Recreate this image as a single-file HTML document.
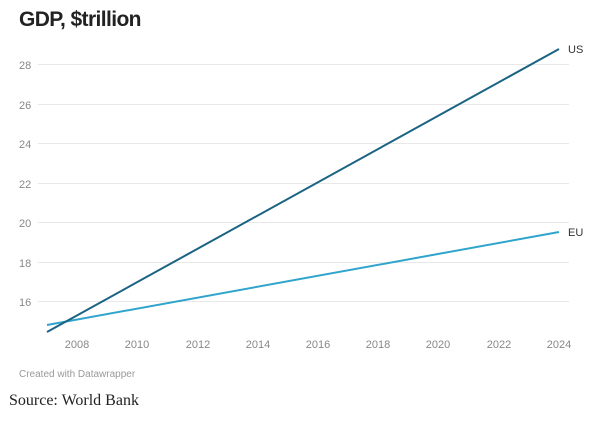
<!DOCTYPE html>
<html><head><style>
body{margin:0;width:614px;height:426px;background:#fff;position:relative;overflow:hidden;font-family:"Liberation Sans",sans-serif}
.t{position:absolute;white-space:nowrap}
</style></head><body>
<div class="t" style="left:19px;top:8px;font-size:21px;font-weight:bold;color:#222;letter-spacing:-0.6px">GDP, $trillion</div>
<svg width="614" height="426" style="position:absolute;left:0;top:0">
<g stroke="#e8e8e8" stroke-width="1">
<line x1="38" x2="569" y1="64.5" y2="64.5"/>
<line x1="38" x2="569" y1="104.5" y2="104.5"/>
<line x1="38" x2="569" y1="143.5" y2="143.5"/>
<line x1="38" x2="569" y1="183.5" y2="183.5"/>
<line x1="38" x2="569" y1="222.5" y2="222.5"/>
<line x1="38" x2="569" y1="262.5" y2="262.5"/>
<line x1="38" x2="569" y1="301.5" y2="301.5"/>
</g>
<g font-family="Liberation Sans" font-size="11" fill="#888">
<text x="19" y="69">28</text><text x="19" y="109">26</text><text x="19" y="148">24</text>
<text x="19" y="188">22</text><text x="19" y="227">20</text><text x="19" y="267">18</text><text x="19" y="306">16</text>
<g text-anchor="middle">
<text x="77" y="348">2008</text><text x="137" y="348">2010</text><text x="198" y="348">2012</text>
<text x="258" y="348">2014</text><text x="318" y="348">2016</text><text x="378" y="348">2018</text>
<text x="438" y="348">2020</text><text x="499" y="348">2022</text><text x="559" y="348">2024</text>
</g></g>
<line x1="47" y1="325" x2="559" y2="232" stroke="#2fa4cc" stroke-width="2"/>
<line x1="47" y1="332" x2="559" y2="49" stroke="#1a6383" stroke-width="2"/>
<g font-family="Liberation Sans" font-size="11" fill="#333">
<text x="568" y="53">US</text><text x="568" y="236">EU</text></g>
</svg>
<div class="t" style="left:19px;top:369px;font-size:10px;color:#999">Created with Datawrapper</div>
<div class="t" style="left:9px;top:392px;font-size:16px;color:#222;font-family:'Liberation Serif',serif">Source: World Bank</div>
</body></html>
